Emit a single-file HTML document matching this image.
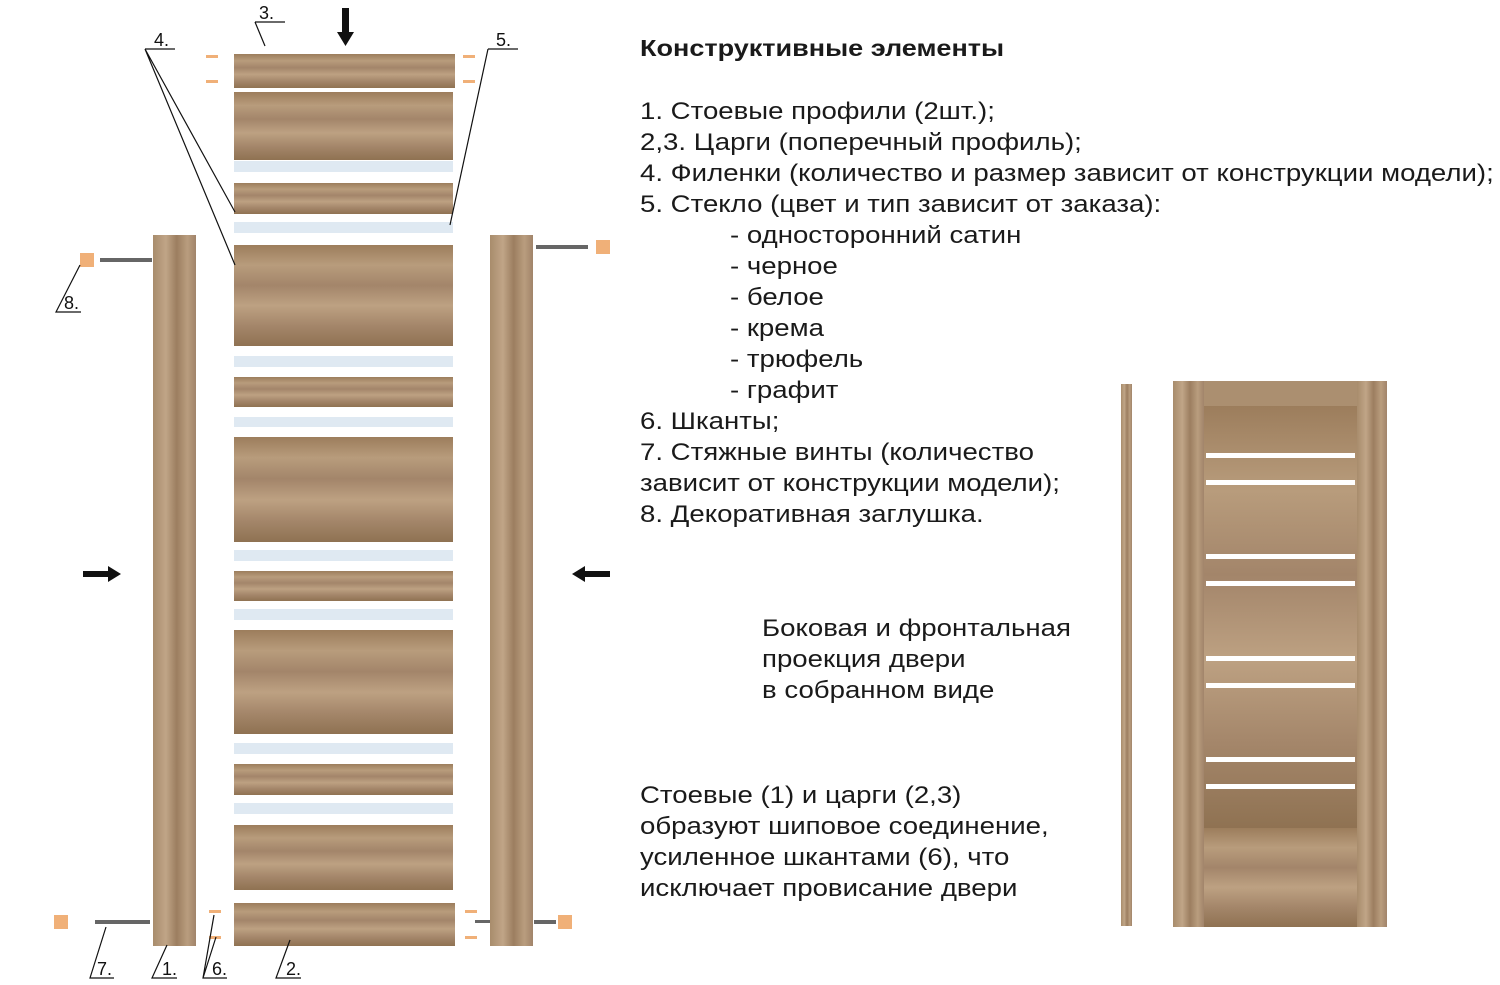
<!DOCTYPE html>
<html><head><meta charset="utf-8"><style>
html,body{margin:0;padding:0;background:#fff;}
body{width:1500px;height:985px;overflow:hidden;position:relative;font-family:"Liberation Sans",Arial,sans-serif;}
.t{position:absolute;font-size:24px;color:#1a1a1a;line-height:31px;white-space:nowrap;transform:scaleX(1.15);transform-origin:0 0;}
</style></head><body>
<svg width="1500" height="985" style="position:absolute;left:0;top:0">
<defs>
<linearGradient id="wh" x1="0" y1="0" x2="0" y2="1">
<stop offset="0" stop-color="#9c7d5c"/><stop offset=".2" stop-color="#b89c7c"/><stop offset=".4" stop-color="#a3856a"/><stop offset=".6" stop-color="#bda182"/><stop offset=".8" stop-color="#a4866a"/><stop offset="1" stop-color="#8f7252"/>
</linearGradient>
<linearGradient id="wv" x1="0" y1="0" x2="1" y2="0">
<stop offset="0" stop-color="#a88c6c"/><stop offset=".3" stop-color="#c0a587"/><stop offset=".55" stop-color="#9c7e60"/><stop offset=".8" stop-color="#b99d7e"/><stop offset="1" stop-color="#a1846a"/>
</linearGradient>
</defs>
<g fill="url(#wh)">
<rect x="234" y="54" width="221" height="34"/>
<rect x="234" y="92" width="219" height="68"/>
<rect x="234" y="183" width="219" height="31"/>
<rect x="234" y="245" width="219" height="101"/>
<rect x="234" y="377" width="219" height="30"/>
<rect x="234" y="437" width="219" height="105"/>
<rect x="234" y="571" width="219" height="30"/>
<rect x="234" y="630" width="219" height="104"/>
<rect x="234" y="764" width="219" height="31"/>
<rect x="234" y="825" width="219" height="65"/>
<rect x="234" y="903" width="221" height="43"/>
</g>
<g fill="#dfe9f2">
<rect x="234" y="161" width="219" height="11"/><rect x="234" y="222" width="219" height="11"/>
<rect x="234" y="356" width="219" height="11"/><rect x="234" y="417" width="219" height="10"/>
<rect x="234" y="550" width="219" height="11"/><rect x="234" y="609" width="219" height="11"/>
<rect x="234" y="743" width="219" height="11"/><rect x="234" y="803" width="219" height="11"/>
</g>
<rect x="153" y="235" width="43" height="711" fill="url(#wv)"/>
<rect x="490" y="235" width="43" height="711" fill="url(#wv)"/>
<g fill="#f0b078">
<rect x="206" y="55" width="12" height="3"/><rect x="206" y="80" width="12" height="3"/>
<rect x="463" y="55" width="12" height="3"/><rect x="463" y="80" width="12" height="3"/>
<rect x="209" y="910" width="12" height="3"/><rect x="209" y="936" width="12" height="3"/>
<rect x="465" y="910" width="12" height="3"/><rect x="465" y="936" width="12" height="3"/>
<rect x="80" y="253" width="14" height="14"/><rect x="596" y="240" width="14" height="14"/>
<rect x="54" y="915" width="14" height="14"/><rect x="558" y="915" width="14" height="14"/>
</g>
<g fill="#666">
<rect x="100" y="258" width="52" height="4"/><rect x="536" y="245" width="52" height="4"/>
<rect x="95" y="920" width="55" height="4"/><rect x="475" y="920" width="15" height="3"/><rect x="534" y="920" width="22" height="4"/>
</g>
<g fill="#111">
<polygon points="342,8 349,8 349,32 354,32 345.5,46 337,32 342,32"/>
<polygon points="83,571 108,571 108,566 121,574 108,582 108,577 83,577"/>
<polygon points="610,571 585,571 585,566 572,574 585,582 585,577 610,577"/>
</g>
<g stroke="#111" stroke-width="1.2" fill="none">
<path d="M255,22 H285 M255,22 L265,46"/>
<path d="M145,49 H175 M145,49 L235,212 M145,49 L235,265"/>
<path d="M488,49 H518 M488,49 L450,225"/>
<path d="M81,312 H56 L80,265"/>
<path d="M114,978 H90 L106,927"/>
<path d="M177,978 H152 L167,945"/>
<path d="M227,978 H203 L214,915 M203,978 L216,937"/>
<path d="M301,978 H276 L290,940"/>
</g>
<g font-family="Liberation Sans,Arial,sans-serif" font-size="18" fill="#111">
<text x="259" y="19">3.</text><text x="154" y="46">4.</text><text x="496" y="46">5.</text>
<text x="64" y="309">8.</text><text x="97" y="975">7.</text><text x="162" y="975">1.</text>
<text x="212" y="975">6.</text><text x="286" y="975">2.</text>
</g>
<rect x="1121" y="384" width="11" height="542" fill="url(#wv)"/>
<rect x="1173" y="381" width="214" height="546" fill="url(#wv)"/>
<rect x="1204" y="406" width="153" height="422" fill="url(#wh)"/>
<rect x="1173" y="381" width="214" height="25" fill="#ab8f70"/>
<rect x="1204" y="828" width="153" height="99" fill="url(#wh)"/>
<rect x="1173" y="381" width="31" height="546" fill="url(#wv)"/>
<rect x="1357" y="381" width="30" height="546" fill="url(#wv)"/>
<g fill="#fff">
<rect x="1206" y="453" width="149" height="5"/><rect x="1206" y="480" width="149" height="5"/>
<rect x="1206" y="554" width="149" height="5"/><rect x="1206" y="581" width="149" height="5"/>
<rect x="1206" y="656" width="149" height="5"/><rect x="1206" y="683" width="149" height="5"/>
<rect x="1206" y="757" width="149" height="5"/><rect x="1206" y="784" width="149" height="5"/>
</g>
</svg>
<div class="t" style="left:640px;top:33px;font-weight:bold;font-size:23.5px">Конструктивные элементы</div>
<div class="t" style="left:640px;top:96px">1. Стоевые профили (2шт.);<br>2,3. Царги (поперечный профиль);<br>4. Филенки (количество и размер зависит от конструкции модели);<br>5. Стекло (цвет и тип зависит от заказа):</div>
<div class="t" style="left:730px;top:220px">- односторонний сатин<br>- черное<br>- белое<br>- крема<br>- трюфель<br>- графит</div>
<div class="t" style="left:640px;top:406px">6. Шканты;<br>7. Стяжные винты (количество<br>зависит от конструкции модели);<br>8. Декоративная заглушка.</div>
<div class="t" style="left:762px;top:613px">Боковая и фронтальная<br>проекция двери<br>в собранном виде</div>
<div class="t" style="left:640px;top:780px">Стоевые (1) и царги (2,3)<br>образуют шиповое соединение,<br>усиленное шкантами (6), что<br>исключает провисание двери</div>
</body></html>
